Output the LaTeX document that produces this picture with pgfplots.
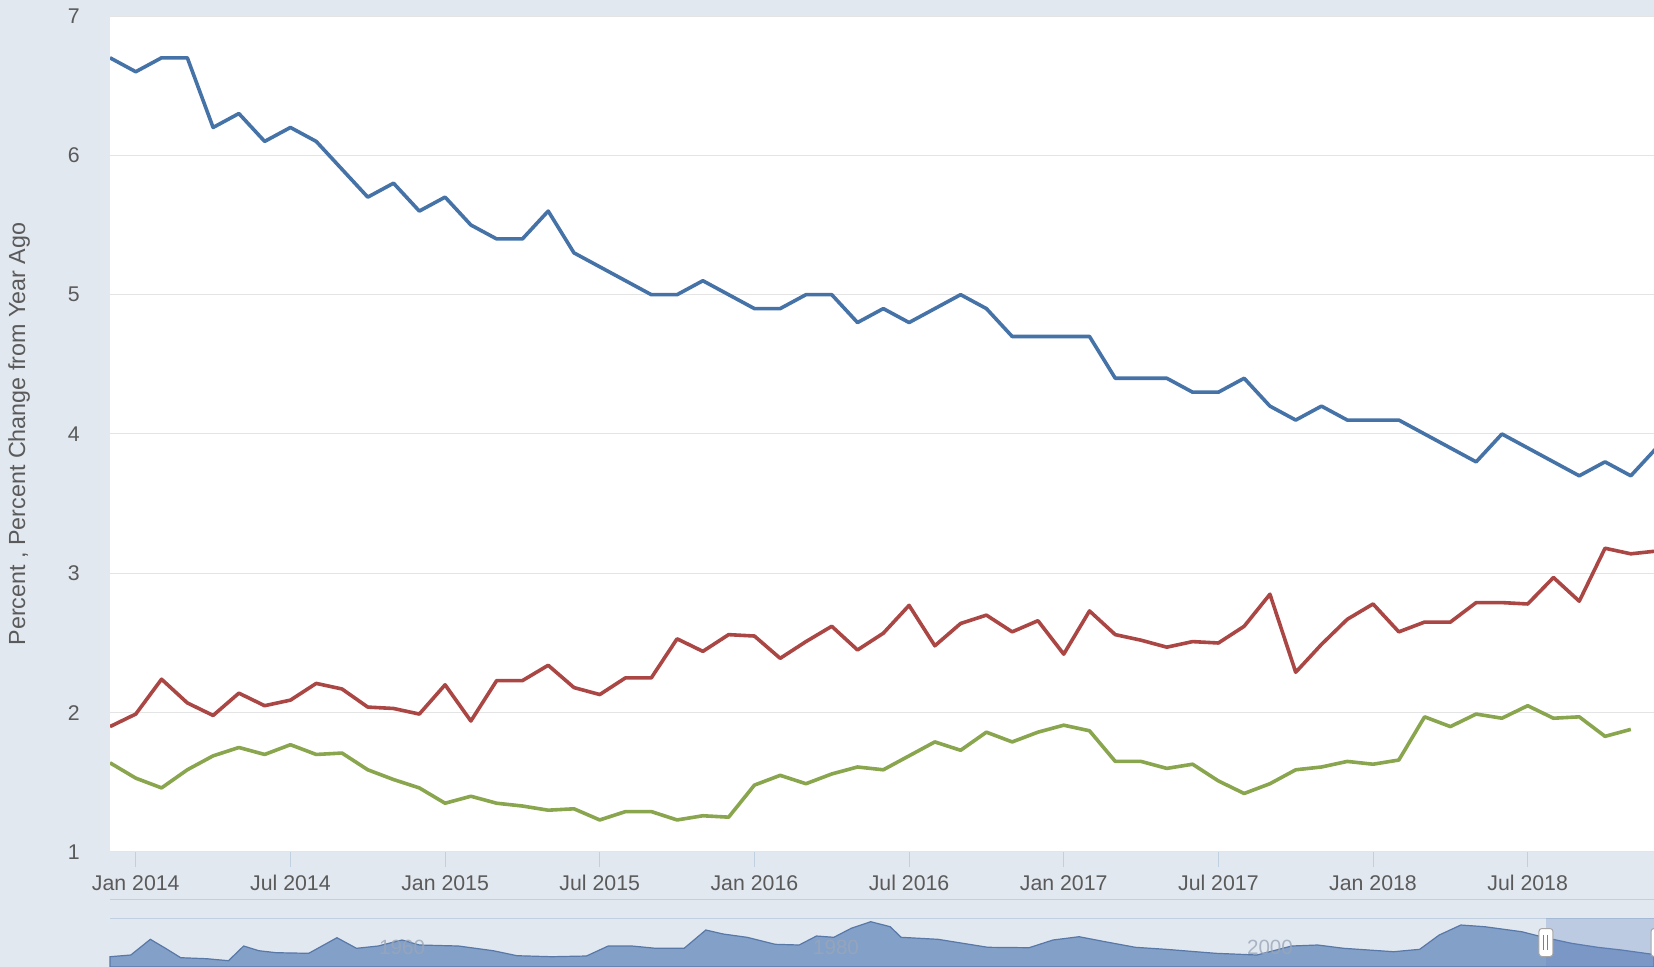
\documentclass[border=0pt]{standalone}
\usepackage{fontspec}
\setmainfont{Liberation Sans}
\usepackage{pgfplots}
\pgfplotsset{compat=1.18}
\definecolor{pagebg}{HTML}{E2E8F0}
\definecolor{gridc}{HTML}{E4E4E4}
\definecolor{tickc}{HTML}{C0D0E0}
\definecolor{labc}{HTML}{5A5A5A}
\definecolor{ser1}{HTML}{4572A7}
\definecolor{ser2}{HTML}{AA4643}
\definecolor{ser3}{HTML}{89A54E}
\definecolor{navfill}{HTML}{83A0C8}
\definecolor{navline}{HTML}{5878A8}
\definecolor{navmask}{HTML}{6685C2}
\definecolor{navlab}{HTML}{9AA6B8}
\begin{document}
\begin{tikzpicture}
\useasboundingbox (0,0) rectangle (827bp,-483.5bp);
\fill[pagebg] (0,0) rectangle (827bp,-483.5bp);
\draw[tickc, line width=0.5bp] (55bp,-449.5bp) -- (827bp,-449.5bp);
\draw[tickc, line width=0.5bp] (55bp,-459bp) -- (827bp,-459bp);
\begin{axis}[
  at={(55bp,-8bp)}, anchor=north west,
  scale only axis, width=772bp, height=418bp,
  xmin=-1, xmax=58.9, ymin=1, ymax=7,
  axis background/.style={fill=white},
  axis line style={draw=none},
  ytick={1,2,3,4,5,6,7},
  xtick={0,6,12,18,24,30,36,42,48,54},
  xticklabels={Jan 2014,Jul 2014,Jan 2015,Jul 2015,Jan 2016,Jul 2016,Jan 2017,Jul 2017,Jan 2018,Jul 2018},
  ymajorgrids, grid style={gridc, line width=0.5bp},
  tick align=outside,
  xtick pos=bottom,
  major tick length=7.5bp,
  ytick style={draw=none},
  xtick style={tickc, line width=0.5bp},
  /pgf/number format/assume math mode=true,
  ticklabel style={font=\fontsize{10.65bp}{12bp}\selectfont, text=labc},
  yticklabel style={inner sep=0pt, anchor=east, xshift=-7.5bp},
  xticklabel style={inner sep=0pt, anchor=base, yshift=-11.85bp},
  ylabel={Percent , Percent Change from Year Ago},
  every axis y label/.style={at={(axis description cs:-0.0589,0.5)}, rotate=90, anchor=center, font=\fontsize{11.65bp}{13bp}\selectfont, text=labc},
  clip=true,
]
\addplot[ser1, line width=1.8bp, line join=round] coordinates {
(-1,6.7)(0,6.6)(1,6.7)(2,6.7)(3,6.2)(4,6.3)(5,6.1)(6,6.2)(7,6.1)(8,5.9)(9,5.7)(10,5.8)(11,5.6)
(12,5.7)(13,5.5)(14,5.4)(15,5.4)(16,5.6)(17,5.3)(18,5.2)(19,5.1)(20,5.0)(21,5.0)(22,5.1)(23,5.0)
(24,4.9)(25,4.9)(26,5.0)(27,5.0)(28,4.8)(29,4.9)(30,4.8)(31,4.9)(32,5.0)(33,4.9)(34,4.7)(35,4.7)
(36,4.7)(37,4.7)(38,4.4)(39,4.4)(40,4.4)(41,4.3)(42,4.3)(43,4.4)(44,4.2)(45,4.1)(46,4.2)(47,4.1)
(48,4.1)(49,4.1)(50,4.0)(51,3.9)(52,3.8)(53,4.0)(54,3.9)(55,3.8)(56,3.7)(57,3.8)(58,3.7)(59,3.9)};
\addplot[ser2, line width=1.8bp, line join=round] coordinates {
(-1,1.90)(0,1.99)(1,2.24)(2,2.07)(3,1.98)(4,2.14)(5,2.05)(6,2.09)(7,2.21)(8,2.17)(9,2.04)(10,2.03)(11,1.99)
(12,2.20)(13,1.94)(14,2.23)(15,2.23)(16,2.34)(17,2.18)(18,2.13)(19,2.25)(20,2.25)(21,2.53)(22,2.44)(23,2.56)
(24,2.55)(25,2.39)(26,2.51)(27,2.62)(28,2.45)(29,2.57)(30,2.77)(31,2.48)(32,2.64)(33,2.70)(34,2.58)(35,2.66)
(36,2.42)(37,2.73)(38,2.56)(39,2.52)(40,2.47)(41,2.51)(42,2.50)(43,2.62)(44,2.85)(45,2.29)(46,2.49)(47,2.67)
(48,2.78)(49,2.58)(50,2.65)(51,2.65)(52,2.79)(53,2.79)(54,2.78)(55,2.97)(56,2.80)(57,3.18)(58,3.14)(59,3.16)};
\addplot[ser3, line width=1.8bp, line join=round] coordinates {
(-1,1.64)(0,1.53)(1,1.46)(2,1.59)(3,1.69)(4,1.75)(5,1.70)(6,1.77)(7,1.70)(8,1.71)(9,1.59)(10,1.52)(11,1.46)
(12,1.35)(13,1.40)(14,1.35)(15,1.33)(16,1.30)(17,1.31)(18,1.23)(19,1.29)(20,1.29)(21,1.23)(22,1.26)(23,1.25)
(24,1.48)(25,1.55)(26,1.49)(27,1.56)(28,1.61)(29,1.59)(30,1.69)(31,1.79)(32,1.73)(33,1.86)(34,1.79)(35,1.86)
(36,1.91)(37,1.87)(38,1.65)(39,1.65)(40,1.60)(41,1.63)(42,1.51)(43,1.42)(44,1.49)(45,1.59)(46,1.61)(47,1.65)
(48,1.63)(49,1.66)(50,1.97)(51,1.90)(52,1.99)(53,1.96)(54,2.05)(55,1.96)(56,1.97)(57,1.83)(58,1.88)};
\end{axis}
\begin{axis}[
  at={(55bp,-459bp)}, anchor=north west,
  scale only axis, width=772bp, height=24.5bp,
  xmin=1946.54, xmax=2017.7, ymin=0, ymax=49,
  axis line style={draw=none},
  ytick=\empty, xtick=\empty,
  clip=false,
]
\addplot[fill=navfill, draw=navline, line width=0.6bp] coordinates {
(1946.54,10.3)(1947.5,12)(1948.4,27.7)(1949.1,18.7)(1949.8,9.3)(1951.0,8.3)(1952.0,6.3)(1952.7,21)
(1953.4,16.3)(1954.2,14.3)(1955.7,13.7)(1957.0,29.3)(1957.9,18.7)(1958.9,21)(1960.0,27)(1960.8,22)
(1962.6,21)(1964.2,16.3)(1965.3,11.3)(1966.9,10.3)(1968.5,11)(1969.5,21)(1970.6,21)(1971.7,18.7)
(1973.0,18.7)(1974.0,37)(1974.8,33)(1975.9,29.7)(1977.2,22.7)(1978.3,22)(1979.1,31)(1979.9,29.7)
(1980.7,38.7)(1981.6,45.3)(1982.5,40.3)(1983.0,29.7)(1984.7,27.7)(1987.0,19.7)(1988.9,19.3)(1990.0,27)
(1991.2,30.3)(1992.4,25.3)(1993.8,19.7)(1995.2,17.7)(1997.5,13.7)(1999.4,12)(2001.0,21)(2002.2,22)
(2003.4,18.7)(2005.7,15.3)(2006.9,17.7)(2007.8,32)(2008.8,42)(2009.9,40.3)(2011.6,35.3)(2012.7,29.3)
(2013.9,23.7)(2015.1,19.7)(2016.2,17)(2017.7,12.5)} \closedcycle;
\fill[navmask, fill opacity=0.3] (axis cs:2012.72,0) rectangle (axis cs:2017.7,49);
\node[font=\fontsize{10.3bp}{12bp}\selectfont, text=navlab, text opacity=0.8, inner sep=0pt] at (axis cs:1960,20) {1960};
\node[font=\fontsize{10.3bp}{12bp}\selectfont, text=navlab, text opacity=0.8, inner sep=0pt] at (axis cs:1980,20) {1980};
\node[font=\fontsize{10.3bp}{12bp}\selectfont, text=navlab, text opacity=0.8, inner sep=0pt] at (axis cs:2000,20) {2000};
\draw[gray!70, fill=white, rounded corners=1.5bp, line width=0.5bp] ([xshift=-3.5bp]axis cs:2012.72,10.5) rectangle ([xshift=3.5bp]axis cs:2012.72,38.5);
\draw[gray, line width=0.5bp] ([xshift=-1bp]axis cs:2012.72,17) -- ([xshift=-1bp]axis cs:2012.72,32);
\draw[gray, line width=0.5bp] ([xshift=1bp]axis cs:2012.72,17) -- ([xshift=1bp]axis cs:2012.72,32);
\draw[gray!70, fill=white, rounded corners=1.5bp, line width=0.5bp] ([xshift=-1.5bp]axis cs:2017.7,10.5) rectangle ([xshift=5.5bp]axis cs:2017.7,38.5);
\end{axis}
\end{tikzpicture}
\end{document}
